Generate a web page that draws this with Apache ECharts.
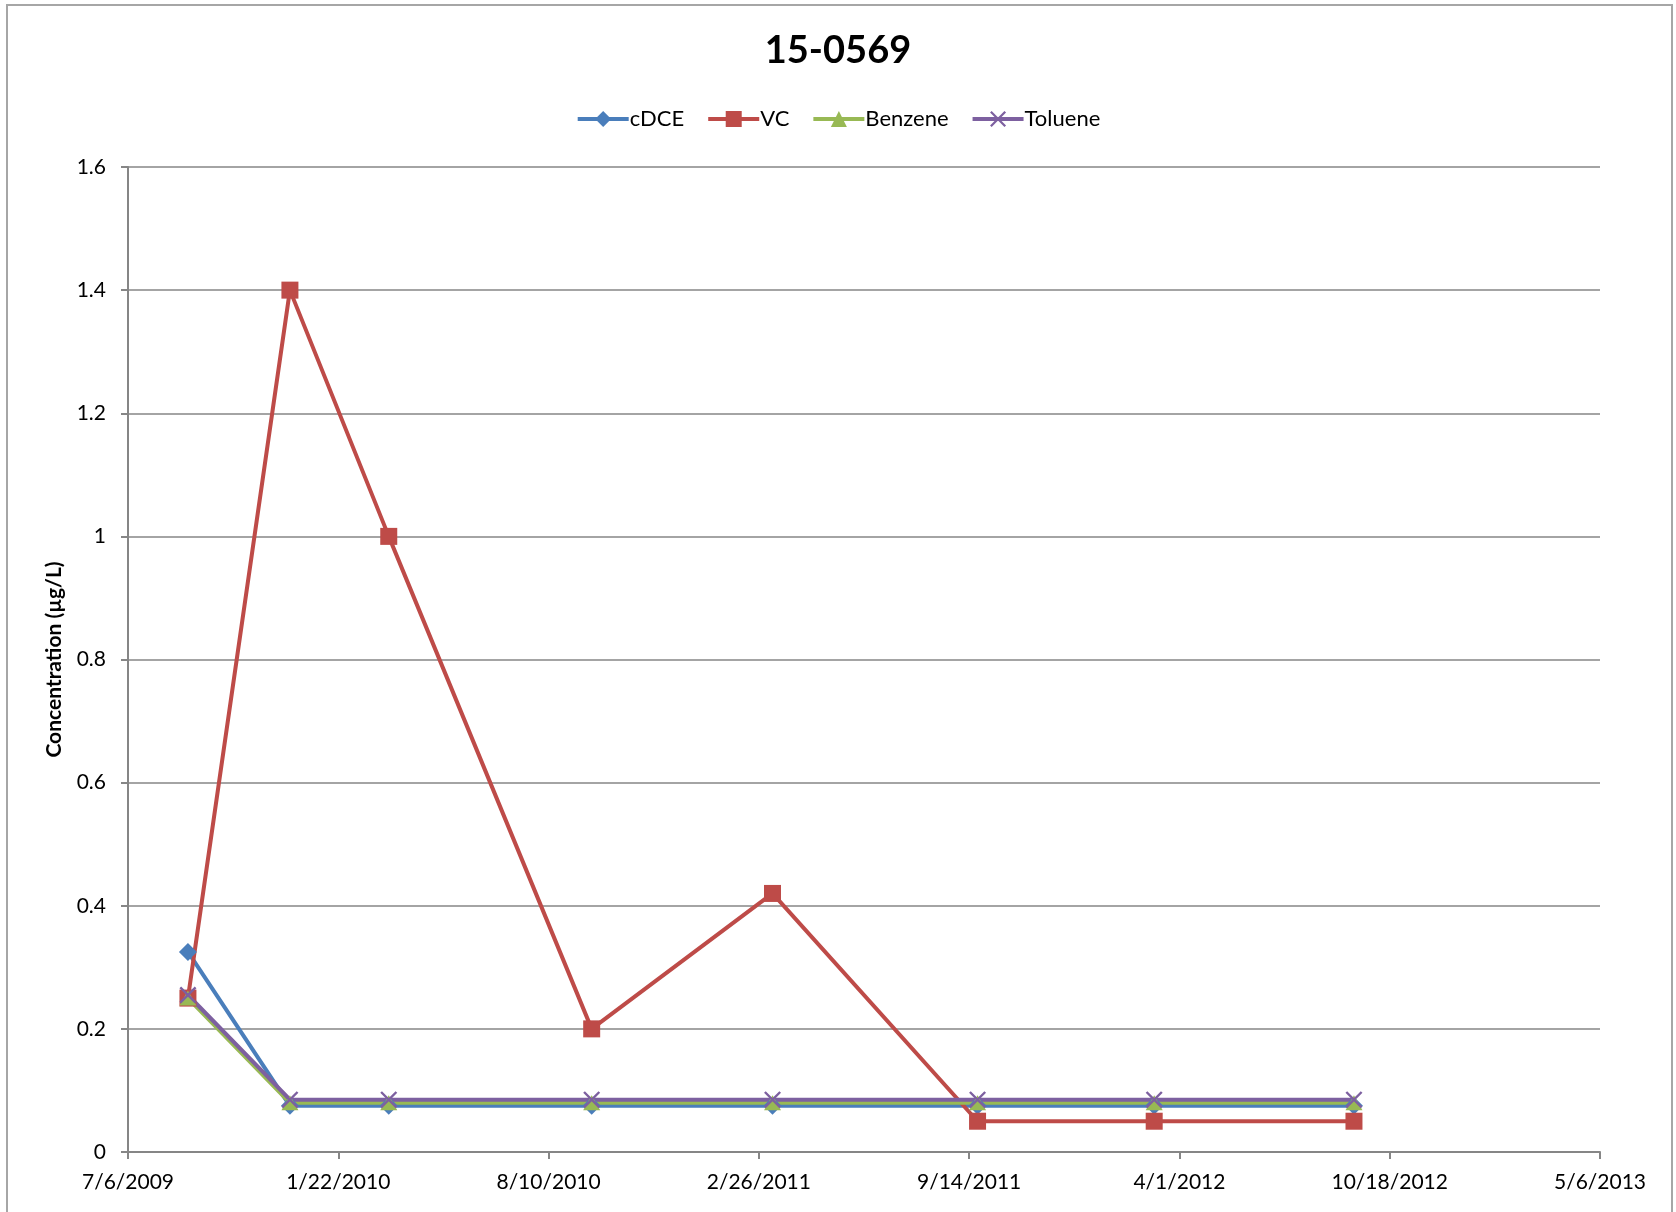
<!DOCTYPE html>
<html>
<head>
<meta charset="utf-8">
<title>15-0569</title>
<script src="https://cdn.jsdelivr.net/npm/echarts@6/dist/echarts.min.js"></script>
<style>
  html, body { margin: 0; padding: 0; background: #ffffff; }
  #chart { width: 1676px; height: 1212px; }
</style>
</head>
<body>
<div id="chart"></div>
<script>
// Sampling dates (M/D/YYYY)
const sampleDates = ['9/1/2009', '12/7/2009', '3/11/2010', '9/20/2010', '3/11/2011', '9/22/2011', '3/8/2012', '9/14/2012'];

// Concentrations in µg/L
const cDCE    = [0.325, 0.075, 0.075, 0.075, 0.075, 0.075, 0.075, 0.075];
const VC      = [0.25, 1.4, 1.0, 0.2, 0.42, 0.05, 0.05, 0.05];
const benzene = [0.25, 0.08, 0.08, 0.08, 0.08, 0.08, 0.08, 0.08];
const toluene = [0.255, 0.085, 0.085, 0.085, 0.085, 0.085, 0.085, 0.085];

// Axis ranges (x in spreadsheet day serials, 200-day steps)
const xMin = 40000;   // 7/6/2009
const xMax = 41400;   // 5/6/2013
const xStep = 200;
const yMin = 0, yMax = 1.6, yStep = 0.2;

const EPOCH = Date.UTC(1899, 11, 30);
function toSerial(s) {
  const p = s.split('/').map(Number);
  return Math.round((Date.UTC(p[2], p[0] - 1, p[1]) - EPOCH) / 86400000);
}
function serialToLabel(v) {
  const d = new Date(EPOCH + Math.round(v) * 86400000);
  return (d.getUTCMonth() + 1) + '/' + d.getUTCDate() + '/' + d.getUTCFullYear();
}
const xs = sampleDates.map(toSerial);
const pairs = vals => xs.map((x, i) => [x, vals[i]]);

const FONT = 'Lato, "Open Sans", sans-serif';
const crossPath = 'path://M0,1L1,0L10,9L9,10Z M9,0L10,1L1,10L0,9Z';

const chart = echarts.init(document.getElementById('chart'), null, { renderer: 'canvas' });
chart.setOption({
  animation: false,
  backgroundColor: '#ffffff',
  textStyle: { fontFamily: FONT },
  title: {
    text: '15-0569',
    left: 'center',
    top: 27,
    textStyle: { fontFamily: FONT, fontSize: 38, fontWeight: 'bold', color: '#000000' }
  },
  legend: {
    top: 103,
    left: 'center',
    itemWidth: 51,
    itemHeight: 20,
    itemGap: 22,
    lineStyle: { width: 4 },
    textStyle: { fontFamily: FONT, fontSize: 22, color: '#000000', padding: [0, 0, 0, -4] },
    data: ['cDCE', 'VC', 'Benzene', 'Toluene']
  },
  graphic: [{
    type: 'rect',
    shape: { x: 7, y: 5, width: 1665, height: 1220 },
    style: { fill: null, stroke: '#a6a6a6', lineWidth: 2 },
    silent: true,
    z: -1
  }],
  grid: { left: 128, right: 76, top: 167, bottom: 60, containLabel: false },
  xAxis: {
    type: 'value',
    min: xMin, max: xMax, interval: xStep,
    axisLine: { show: true, lineStyle: { color: '#868686', width: 2 } },
    axisTick: { show: true, length: 7, lineStyle: { color: '#868686', width: 2 } },
    splitLine: { show: false },
    axisLabel: {
      formatter: v => serialToLabel(v),
      fontFamily: FONT, fontSize: 21, color: '#000000', margin: 20
    }
  },
  yAxis: {
    type: 'value',
    min: yMin, max: yMax, interval: yStep,
    name: 'Concentration (µg/L)',
    nameLocation: 'middle',
    nameGap: 63,
    nameTextStyle: { fontFamily: FONT, fontSize: 21, fontWeight: 'bold', color: '#000000' },
    axisLine: { show: true, lineStyle: { color: '#868686', width: 2 } },
    axisTick: { show: true, length: 7, lineStyle: { color: '#868686', width: 2 } },
    splitLine: { show: true, lineStyle: { color: '#868686', width: 1.5 } },
    axisLabel: {
      formatter: v => String(Math.round(v * 10) / 10),
      fontFamily: FONT, fontSize: 21, color: '#000000', margin: 22
    }
  },
  series: [
    {
      name: 'cDCE', type: 'line', data: pairs(cDCE),
      symbol: 'diamond', symbolSize: 18,
      color: '#4A7EBB',
      lineStyle: { width: 4, color: '#4A7EBB' },
      itemStyle: { color: '#4A7EBB' }
    },
    {
      name: 'VC', type: 'line', data: pairs(VC),
      symbol: 'rect', symbolSize: 17,
      color: '#BE4B48',
      lineStyle: { width: 4, color: '#BE4B48' },
      itemStyle: { color: '#BE4B48' }
    },
    {
      name: 'Benzene', type: 'line', data: pairs(benzene),
      symbol: 'triangle', symbolSize: [17, 15],
      color: '#98B954',
      lineStyle: { width: 4, color: '#98B954' },
      itemStyle: { color: '#98B954' }
    },
    {
      name: 'Toluene', type: 'line', data: pairs(toluene),
      symbol: crossPath, symbolSize: 17,
      color: '#7D60A0',
      lineStyle: { width: 4, color: '#7D60A0' },
      itemStyle: { color: '#7D60A0' }
    }
  ]
});
</script>
</body>
</html>
